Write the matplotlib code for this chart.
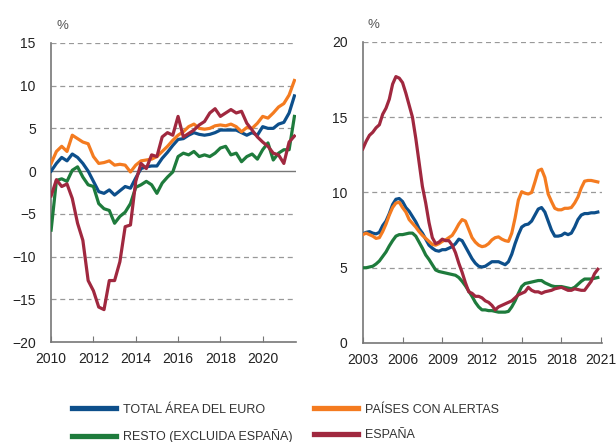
import matplotlib.pyplot as plt
import numpy as np
from matplotlib.lines import Line2D

plt.rcParams['font.family'] = ['Liberation Sans', 'DejaVu Sans']

# left panel: quarterly, 2010Q1 - 2021Q3
left_years = 2010 + 0.25 * np.arange(47)
left_total = [0.0, 0.9, 1.6, 1.2, 2.0, 1.6, 0.9, 0.0, -1.2, -2.4, -2.6, -2.2, -2.8, -2.3, -1.8, -2.0,
              -0.8, 0.3, 0.5, 0.6, 0.6, 1.5, 2.2, 3.0, 3.7, 3.8, 4.2, 4.5, 4.3, 4.2, 4.3, 4.5,
              4.8, 4.8, 4.8, 4.8, 4.5, 4.2, 4.5, 4.2, 5.2, 5.0, 5.0, 5.5, 5.7, 6.8, 8.8]
left_alertas = [0.9, 2.3, 2.9, 2.3, 4.2, 3.8, 3.4, 3.2, 1.7, 0.9, 1.0, 1.2, 0.7, 0.8, 0.7, -0.1,
                0.7, 1.2, 1.3, 1.4, 1.7, 2.3, 2.9, 3.6, 4.2, 4.6, 5.2, 5.5, 5.0, 4.9, 5.0, 5.3,
                5.4, 5.3, 5.5, 5.2, 4.6, 5.1, 5.0, 5.6, 6.4, 6.2, 6.8, 7.5, 7.9, 8.9, 10.6]
left_resto = [-6.9, -1.1, -0.9, -1.2, 0.1, 0.5, -0.7, -1.6, -1.8, -3.8, -4.4, -4.6, -6.1, -5.3, -4.8, -3.8,
              -1.9, -1.6, -1.2, -1.6, -2.6, -1.4, -0.7, -0.1, 1.7, 2.1, 1.9, 2.3, 1.7, 1.9, 1.7, 2.1,
              2.7, 2.9, 1.9, 2.1, 1.1, 1.7, 2.0, 1.4, 2.5, 3.3, 1.3, 2.1, 2.5, 2.5, 6.4]
left_espana = [-2.9, -1.0, -1.8, -1.5, -3.2, -6.1, -8.1, -12.8, -14.0, -15.9, -16.2, -12.8, -12.8, -10.6, -6.5, -6.3,
               -1.2, 0.9, 0.3, 1.9, 1.7, 4.0, 4.5, 4.2, 6.4, 4.0, 4.4, 4.8, 5.4, 5.8, 6.8, 7.3,
               6.4, 6.8, 7.2, 6.8, 7.0, 5.6, 4.8, 4.0, 3.4, 2.9, 2.1, 1.9, 0.9, 3.4, 4.1]

# right panel: quarterly, 2003Q1 - 2020Q4
right_years = 2003 + 0.25 * np.arange(72)
right_total = [7.25, 7.35, 7.4, 7.3, 7.25, 7.35, 7.8, 8.1, 8.6, 9.2, 9.55, 9.6, 9.4, 9.0, 8.75, 8.4,
               8.05, 7.6, 7.3, 6.9, 6.5, 6.3, 6.15, 6.1, 6.2, 6.2, 6.3, 6.4, 6.6, 6.9, 6.8, 6.4,
               6.0, 5.6, 5.3, 5.1, 5.05, 5.1, 5.25, 5.4, 5.4, 5.4, 5.3, 5.2, 5.4, 5.9, 6.6, 7.2,
               7.7, 7.85, 7.9, 8.1, 8.5, 8.9, 9.0, 8.7, 8.1, 7.5, 7.1, 7.1, 7.15, 7.3, 7.2, 7.3,
               7.7, 8.2, 8.5, 8.6, 8.6, 8.65, 8.65, 8.7]
right_alertas = [7.2, 7.3, 7.2, 7.1, 6.95, 7.0, 7.4, 7.9, 8.5, 9.0, 9.3, 9.35, 9.0, 8.7, 8.2, 7.95,
                 7.7, 7.4, 7.15, 6.95, 6.75, 6.55, 6.5, 6.6, 6.75, 6.85, 7.0, 7.15, 7.5, 7.9, 8.2, 8.1,
                 7.55, 7.0, 6.7, 6.5, 6.4, 6.45, 6.6, 6.85, 7.0, 7.05, 6.9, 6.8, 6.75, 7.3, 8.3, 9.5,
                 10.05, 9.95, 9.9, 10.0, 10.7, 11.45, 11.55, 11.0, 9.9, 9.4, 8.95, 8.85, 8.85, 8.95, 8.95, 9.0,
                 9.3, 9.7, 10.3, 10.75, 10.8, 10.8, 10.75, 10.7]
right_resto = [5.0, 5.0, 5.05, 5.1, 5.25, 5.45, 5.75, 6.05, 6.45, 6.8, 7.1, 7.2, 7.2, 7.25, 7.3, 7.3,
               7.1, 6.7, 6.3, 5.85, 5.55, 5.2, 4.85, 4.75, 4.7, 4.65, 4.6, 4.55, 4.5, 4.35, 4.1, 3.8,
               3.45, 3.1, 2.7, 2.4, 2.2, 2.2, 2.15, 2.15, 2.1, 2.05, 2.05, 2.05, 2.1, 2.4, 2.8, 3.3,
               3.75, 3.95, 4.0, 4.05, 4.1, 4.15, 4.15, 4.0, 3.9, 3.8, 3.75, 3.75, 3.75, 3.7, 3.65, 3.6,
               3.7, 3.9, 4.1, 4.25, 4.25, 4.25, 4.3, 4.35]
right_espana = [12.9, 13.4, 13.8, 14.0, 14.3, 14.5, 15.2, 15.6, 16.2, 17.2, 17.7, 17.6, 17.3, 16.6, 15.8, 15.0,
                13.6, 12.0, 10.4, 9.3, 8.0, 7.0, 6.6, 6.7, 6.9, 6.8, 6.8, 6.5, 6.0, 5.3, 4.7, 4.0,
                3.4, 3.3, 3.1, 3.1, 3.0, 2.8, 2.7, 2.5, 2.2, 2.4, 2.5, 2.6, 2.7, 2.8, 3.0, 3.2,
                3.3, 3.4, 3.7, 3.5, 3.4, 3.4, 3.3, 3.4, 3.45, 3.5, 3.6, 3.65, 3.7, 3.6, 3.5, 3.5,
                3.6, 3.55, 3.5, 3.5, 3.8, 4.1, 4.6, 4.9]

labels = ['TOTAL ÁREA DEL EURO', 'PAÍSES CON ALERTAS', 'RESTO (EXCLUIDA ESPAÑA)', 'ESPAÑA']
colors = ['#0d4f8b', '#f47b20', '#1e7b3c', '#a0283f']

left_yticks = [-20, -15, -10, -5, 0, 5, 10, 15]
left_xticks = [2010, 2012, 2014, 2016, 2018, 2020]
right_yticks = [0, 5, 10, 15, 20]
right_xticks = [2003, 2006, 2009, 2012, 2015, 2018, 2021]

fig = plt.figure(figsize=(6.16, 4.42), dpi=100)
ax1 = fig.add_axes([0.083, 0.226, 0.397, 0.677])
ax2 = fig.add_axes([0.589, 0.224, 0.389, 0.681])

grey = '#777777'
for ax, yt, xt in [(ax1, left_yticks, left_xticks), (ax2, right_yticks, right_xticks)]:
    for s in ['top', 'right']:
        ax.spines[s].set_visible(False)
    ax.spines['left'].set_color(grey)
    ax.spines['bottom'].set_color(grey)
    ax.spines['left'].set_linewidth(1.2)
    ax.spines['bottom'].set_linewidth(1.2)
    ax.set_yticks(yt)
    ax.set_xticks(xt)
    ax.tick_params(axis='y', length=0, pad=11, labelsize=10, labelcolor='#222222')
    ax.tick_params(axis='x', direction='in', length=4, color=grey, pad=7, labelsize=10,
                   labelcolor='#222222')
    for v in yt[1:]:
        if v == 0:
            continue
        ax.axhline(v, color='#999999', lw=0.9, ls=(0, (4, 3)), zorder=0)
    ax.text(0.02, 1.045, '%', transform=ax.transAxes, fontsize=9.5, color='#555555')

ax1.axhline(0, color=grey, lw=1.0, zorder=1)
ax1.set_ylim(-20, 15)
ax1.set_xlim(2010, 2021.56)
ax2.set_ylim(0, 20)
ax2.set_xlim(2003, 2021.1)

left_series = [left_total, left_alertas, left_resto, left_espana]
right_series = [right_total, right_alertas, right_resto, right_espana]
for vals, c in zip(left_series, colors):
    ax1.plot(left_years, vals, color=c, lw=2.3, zorder=3)
for vals, c in zip(right_series, colors):
    ax2.plot(right_years, vals, color=c, lw=2.3, zorder=3)

# two legend columns, placed separately
for idx, x0 in [([0, 2], 0.117), ([1, 3], 0.51)]:
    handles = [Line2D([], [], color=colors[i], lw=3.8) for i in idx]
    fig.legend(handles, [labels[i] for i in idx], loc='upper left',
               bbox_to_anchor=(x0, 0.087), frameon=False, borderpad=0, borderaxespad=0,
               prop={'size': 9}, labelcolor='#333333', handlelength=3.5,
               handletextpad=0.55, labelspacing=1.1)

fig.savefig('out.png', dpi=100)
